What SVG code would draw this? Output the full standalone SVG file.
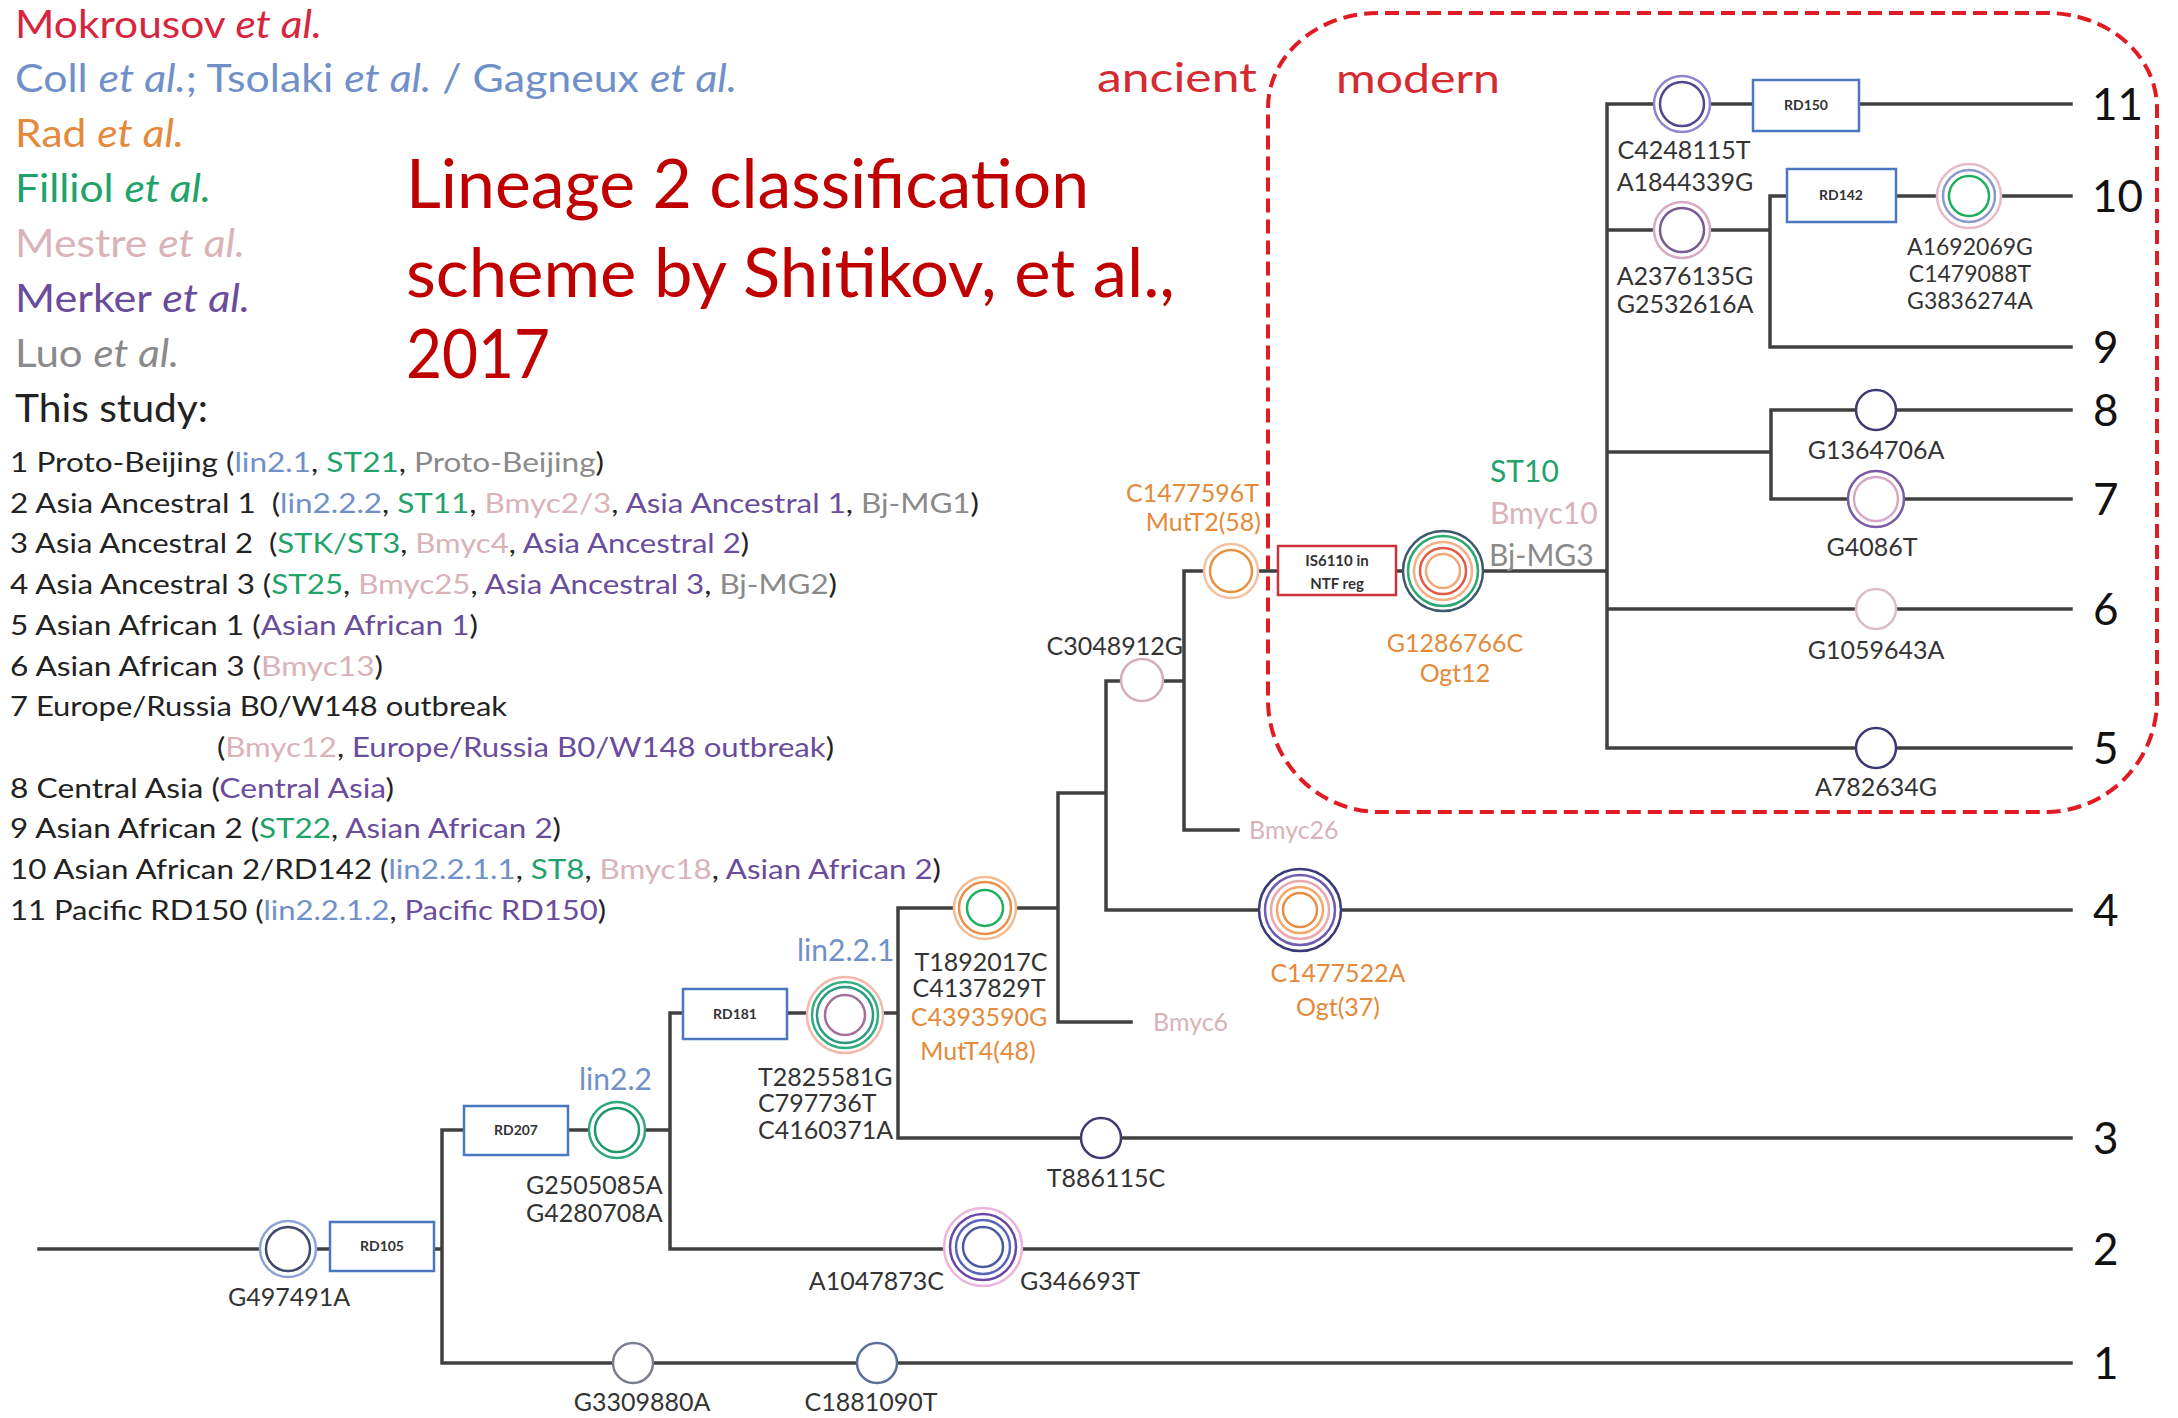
<svg xmlns="http://www.w3.org/2000/svg" width="2178" height="1418" viewBox="0 0 2178 1418">
  <style>
    text { font-family: Lato, "Open Sans", "Liberation Sans", sans-serif; }
    .ln { fill: none; stroke: #404040; stroke-width: 3.5; stroke-linecap: square; }
    .rd { fill: #fff; stroke: #4a78c0; stroke-width: 2.5; }
    .rdt { font-size: 14px; fill: #333; text-anchor: middle; font-weight: bold; }
    .snp { font-size: 25px; fill: #333; text-anchor: middle; }
    .sm { font-size: 23px; }
    .or { fill: #e48a3a; }
    .num { font-size: 44px; fill: #111; }
    .ring { fill: none; stroke-width: 2.5; }
    .bg { fill: #fff; stroke-width: 2.5; }
    .leg { font-size: 38px; }
    .row { font-size: 27px; fill: #222; }
    .cr { fill: #d6253c; }
    .cb { fill: #7090c8; }
    .co { fill: #e48a3a; }
    .cg { fill: #1fa36a; }
    .cp { fill: #d9b3b8; }
    .cm { fill: #6a4c9c; }
    .cy { fill: #8a8a8a; }
    .it { font-style: italic; }
    .title { font-size: 67px; fill: #c00000; }
    .era { font-size: 40px; fill: #d42a30; }
    .tag { font-size: 30px; }
    .tag2 { font-size: 25px; }
  </style>

  <rect width="2178" height="1418" fill="#fff"/>

  <!-- legend of sources -->
  <g id="legend">
    <text class="leg cr" x="15" y="38" textLength="307" lengthAdjust="spacingAndGlyphs">Mokrousov <tspan class="it">et al.</tspan></text>
    <text class="leg cb" x="15" y="92" textLength="722" lengthAdjust="spacingAndGlyphs">Coll <tspan class="it">et al.</tspan>; Tsolaki <tspan class="it">et al.</tspan> / Gagneux <tspan class="it">et al.</tspan></text>
    <text class="leg co" x="15" y="147" textLength="169" lengthAdjust="spacingAndGlyphs">Rad <tspan class="it">et al.</tspan></text>
    <text class="leg cg" x="15" y="202" textLength="196" lengthAdjust="spacingAndGlyphs">Filliol <tspan class="it">et al.</tspan></text>
    <text class="leg cp" x="15" y="257" textLength="230" lengthAdjust="spacingAndGlyphs">Mestre <tspan class="it">et al.</tspan></text>
    <text class="leg cm" x="15" y="312" textLength="235" lengthAdjust="spacingAndGlyphs">Merker <tspan class="it">et al.</tspan></text>
    <text class="leg cy" x="15" y="367" textLength="164" lengthAdjust="spacingAndGlyphs">Luo <tspan class="it">et al.</tspan></text>
    <text class="leg" x="15" y="422" fill="#222" textLength="193" lengthAdjust="spacingAndGlyphs">This study:</text>
  </g>

  <!-- numbered sublineage list -->
  <g id="sublineages">
    <text class="row" x="10" y="472" textLength="594" lengthAdjust="spacingAndGlyphs">1 Proto-Beijing (<tspan class="cb">lin2.1</tspan>, <tspan class="cg">ST21</tspan>, <tspan class="cy">Proto-Beijing</tspan>)</text>
    <text class="row" x="10" y="513" textLength="969" lengthAdjust="spacingAndGlyphs">2 Asia Ancestral 1 &#160;(<tspan class="cb">lin2.2.2</tspan>, <tspan class="cg">ST11</tspan>, <tspan class="cp">Bmyc2/3</tspan>, <tspan class="cm">Asia Ancestral 1</tspan>, <tspan class="cy">Bj-MG1</tspan>)</text>
    <text class="row" x="10" y="553" textLength="739" lengthAdjust="spacingAndGlyphs">3 Asia Ancestral 2 &#160;(<tspan class="cg">STK/ST3</tspan>, <tspan class="cp">Bmyc4</tspan>, <tspan class="cm">Asia Ancestral 2</tspan>)</text>
    <text class="row" x="10" y="594" textLength="827" lengthAdjust="spacingAndGlyphs">4 Asia Ancestral 3 (<tspan class="cg">ST25</tspan>, <tspan class="cp">Bmyc25</tspan>, <tspan class="cm">Asia Ancestral 3</tspan>, <tspan class="cy">Bj-MG2</tspan>)</text>
    <text class="row" x="10" y="635" textLength="468" lengthAdjust="spacingAndGlyphs">5 Asian African 1 (<tspan class="cm">Asian African 1</tspan>)</text>
    <text class="row" x="10" y="676" textLength="373" lengthAdjust="spacingAndGlyphs">6 Asian African 3 (<tspan class="cp">Bmyc13</tspan>)</text>
    <text class="row" x="10" y="716" textLength="497" lengthAdjust="spacingAndGlyphs">7 Europe/Russia B0/W148 outbreak</text>
    <text class="row" x="217" y="757" textLength="617" lengthAdjust="spacingAndGlyphs">(<tspan class="cp">Bmyc12</tspan>, <tspan class="cm">Europe/Russia B0/W148 outbreak</tspan>)</text>
    <text class="row" x="10" y="798" textLength="384" lengthAdjust="spacingAndGlyphs">8 Central Asia (<tspan class="cm">Central Asia</tspan>)</text>
    <text class="row" x="10" y="838" textLength="551" lengthAdjust="spacingAndGlyphs">9 Asian African 2 (<tspan class="cg">ST22</tspan>, <tspan class="cm">Asian African 2</tspan>)</text>
    <text class="row" x="10" y="879" textLength="931" lengthAdjust="spacingAndGlyphs">10 Asian African 2/RD142 (<tspan class="cb">lin2.2.1.1</tspan>, <tspan class="cg">ST8</tspan>, <tspan class="cp">Bmyc18</tspan>, <tspan class="cm">Asian African 2</tspan>)</text>
    <text class="row" x="10" y="920" textLength="596" lengthAdjust="spacingAndGlyphs">11 Pacific RD150 (<tspan class="cb">lin2.2.1.2</tspan>, <tspan class="cm">Pacific RD150</tspan>)</text>
  </g>

  <!-- title -->
  <g id="title">
    <text class="title" x="406" y="208" textLength="683" lengthAdjust="spacingAndGlyphs">Lineage 2 classification</text>
    <text class="title" x="406" y="297" textLength="769" lengthAdjust="spacingAndGlyphs">scheme by Shitikov, et al.,</text>
    <text class="title" x="406" y="378" textLength="144" lengthAdjust="spacingAndGlyphs">2017</text>
  </g>

  <!-- ancient / modern split -->
  <g id="modern-zone">
    <path d="M1268,108 A110,95 0 0 1 1378,13 L2047,13 A110,95 0 0 1 2157,108 L2157,700 A112,112 0 0 1 2045,812 L1380,812 A112,112 0 0 1 1268,700 Z" fill="none" stroke="#e01b24" stroke-width="4" stroke-dasharray="14 7"/>
    <text class="era" x="1097" y="92" textLength="160" lengthAdjust="spacingAndGlyphs">ancient</text>
    <text class="era" x="1336" y="93" textLength="164" lengthAdjust="spacingAndGlyphs">modern</text>
  </g>

  <!-- tree branches -->
  <g id="connectors">
    <path class="ln" d="M39,1249 H442 M442,1130 V1363 H2071 M442,1130 H670 M670,1013 V1249 H2071 M670,1013 H898 M898,908 V1138 H2071 M898,908 H1058 M1058,793 V1022 H1131 M1058,793 H1106 M1106,681 V910 H2071 M1106,681 H1184 M1184,571 V830 H1238 M1184,571 H1607 M1607,104 V748 M1607,104 H2071 M1607,230 H1770 M1770,196 V347 H2071 M1770,196 H2071 M1607,452 H1771 M1771,410 V499 H2071 M1771,410 H2071 M1607,609 H2071 M1607,748 H2071"/>
  </g>

  <!-- deletion boxes -->
  <g id="RD105"><rect class="rd" x="330" y="1222" width="104" height="49"/><text class="rdt" x="382" y="1251">RD105</text></g>
  <g id="RD207"><rect class="rd" x="464" y="1106" width="104" height="49"/><text class="rdt" x="516" y="1135">RD207</text></g>
  <g id="RD181"><rect class="rd" x="683" y="989" width="104" height="50"/><text class="rdt" x="735" y="1019">RD181</text></g>
  <g id="RD150"><rect class="rd" x="1753" y="80" width="106" height="51"/><text class="rdt" x="1806" y="110">RD150</text></g>
  <g id="RD142"><rect class="rd" x="1787" y="169" width="109" height="53"/><text class="rdt" x="1841" y="200">RD142</text></g>
  <g id="IS6110">
    <rect x="1278" y="546" width="118" height="49" fill="#fff" stroke="#d0303a" stroke-width="2.5"/>
    <text class="rdt" x="1337" y="566" style="font-size:15px">IS6110 in</text>
    <text class="rdt" x="1337" y="589" style="font-size:15px">NTF reg</text>
  </g>

  <!-- SNP nodes -->
  <g id="G497491A">
    <circle class="bg" cx="288" cy="1249" r="28" stroke="#8ca4d4"/>
    <circle class="ring" cx="288" cy="1249" r="22" stroke="#3f4a6a"/>
    <text class="snp" x="289" y="1306">G497491A</text>
  </g>
  <g id="G3309880A">
    <circle class="bg" cx="633" cy="1363" r="20" stroke="#7a7f90"/>
    <text class="snp" x="642" y="1411">G3309880A</text>
  </g>
  <g id="C1881090T">
    <circle class="bg" cx="877" cy="1363" r="20" stroke="#5a6e9a"/>
    <text class="snp" x="871" y="1411">C1881090T</text>
  </g>
  <g id="lin2.2">
    <circle class="bg" cx="617" cy="1130" r="28" stroke="#2fa878"/>
    <circle class="ring" cx="617" cy="1130" r="22" stroke="#1e9a68"/>
    <text class="tag cb" x="579" y="1090">lin2.2</text>
    <text class="snp" x="526" y="1194" style="text-anchor:start">G2505085A</text>
    <text class="snp" x="526" y="1222" style="text-anchor:start">G4280708A</text>
  </g>
  <g id="lin2.2.1">
    <circle class="bg" cx="845" cy="1015" r="38" stroke="#f2b8a8"/>
    <circle class="ring" cx="845" cy="1015" r="33" stroke="#2fae80"/>
    <circle class="ring" cx="845" cy="1015" r="28" stroke="#2a9a80"/>
    <circle class="ring" cx="845" cy="1015" r="20" stroke="#a0709a"/>
    <text class="tag cb" x="797" y="961">lin2.2.1</text>
    <text class="snp" x="758" y="1086" style="text-anchor:start">T2825581G</text>
    <text class="snp" x="758" y="1112" style="text-anchor:start">C797736T</text>
    <text class="snp" x="758" y="1139" style="text-anchor:start">C4160371A</text>
  </g>
  <g id="A1047873C">
    <circle class="bg" cx="983" cy="1247" r="39" stroke="#eeb4dc"/>
    <circle class="ring" cx="983" cy="1247" r="33" stroke="#6b48a8"/>
    <circle class="ring" cx="983" cy="1247" r="27" stroke="#5a66b8"/>
    <circle class="ring" cx="983" cy="1247" r="20" stroke="#4a5aa0"/>
    <text class="snp" x="944" y="1290" style="text-anchor:end">A1047873C</text>
    <text class="snp" x="1020" y="1290" style="text-anchor:start">G346693T</text>
  </g>
  <g id="T1892017C">
    <circle class="bg" cx="985" cy="908" r="31" stroke="#f3bc90"/>
    <circle class="ring" cx="985" cy="908" r="26" stroke="#e8904a"/>
    <circle class="ring" cx="985" cy="908" r="18" stroke="#1fb060"/>
    <text class="snp" x="981" y="971">T1892017C</text>
    <text class="snp" x="979" y="997">C4137829T</text>
    <text class="snp or" x="979" y="1026">C4393590G</text>
    <text class="snp or" x="978" y="1060">MutT4(48)</text>
  </g>
  <g id="T886115C">
    <circle class="bg" cx="1101" cy="1138" r="20" stroke="#3c3a6e"/>
    <text class="snp" x="1106" y="1187">T886115C</text>
  </g>
  <g id="Bmyc6"><text class="tag2 cp" x="1153" y="1031">Bmyc6</text></g>
  <g id="C1477522A">
    <circle class="bg" cx="1300" cy="910" r="41" stroke="#3a3a78"/>
    <circle class="ring" cx="1300" cy="910" r="35" stroke="#6e5cae"/>
    <circle class="ring" cx="1300" cy="910" r="29" stroke="#e8a8b0"/>
    <circle class="ring" cx="1300" cy="910" r="23" stroke="#f2a868"/>
    <circle class="ring" cx="1300" cy="910" r="17" stroke="#e88e44"/>
    <text class="snp or" x="1338" y="982">C1477522A</text>
    <text class="snp or" x="1338" y="1016">Ogt(37)</text>
  </g>
  <g id="C3048912G">
    <circle class="bg" cx="1142" cy="680" r="21" stroke="#d4aeb8"/>
    <text class="snp" x="1183" y="655" style="text-anchor:end">C3048912G</text>
  </g>
  <g id="Bmyc26"><text class="tag2 cp" x="1249" y="839">Bmyc26</text></g>
  <g id="C1477596T">
    <circle class="bg" cx="1231" cy="571" r="27" stroke="#f2c2a2"/>
    <circle class="ring" cx="1231" cy="571" r="21" stroke="#e8923e"/>
    <text class="snp or" x="1259" y="502" style="text-anchor:end">C1477596T</text>
    <text class="snp or" x="1261" y="531" style="text-anchor:end">MutT2(58)</text>
  </g>
  <g id="G1286766C">
    <circle class="bg" cx="1443" cy="571" r="40" stroke="#3e5a6a"/>
    <circle class="ring" cx="1443" cy="571" r="35" stroke="#2aa870"/>
    <circle class="ring" cx="1443" cy="571" r="29" stroke="#f0b088"/>
    <circle class="ring" cx="1443" cy="571" r="23" stroke="#e05a48"/>
    <circle class="ring" cx="1443" cy="571" r="17" stroke="#f0a878"/>
    <text class="snp or" x="1455" y="652">G1286766C</text>
    <text class="snp or" x="1455" y="682">Ogt12</text>
    <text class="tag cg" x="1490" y="482">ST10</text>
    <text class="tag cp" x="1490" y="524">Bmyc10</text>
    <text class="tag cy" x="1489" y="566">Bj-MG3</text>
  </g>
  <g id="C4248115T">
    <circle class="bg" cx="1682" cy="104" r="28" stroke="#8c86cc"/>
    <circle class="ring" cx="1682" cy="104" r="22" stroke="#4c4a8c"/>
    <text class="snp" x="1684" y="159">C4248115T</text>
    <text class="snp" x="1685" y="191">A1844339G</text>
  </g>
  <g id="A2376135G">
    <circle class="bg" cx="1682" cy="230" r="28" stroke="#d6aac4"/>
    <circle class="ring" cx="1682" cy="230" r="22" stroke="#7a5a92"/>
    <text class="snp" x="1685" y="285">A2376135G</text>
    <text class="snp" x="1685" y="313">G2532616A</text>
  </g>
  <g id="A1692069G">
    <circle class="bg" cx="1969" cy="196" r="32" stroke="#e4bcc8"/>
    <circle class="ring" cx="1969" cy="196" r="26" stroke="#8c98c8"/>
    <circle class="ring" cx="1969" cy="196" r="20" stroke="#1fae5e"/>
    <text class="snp sm" x="1970" y="255">A1692069G</text>
    <text class="snp sm" x="1970" y="282">C1479088T</text>
    <text class="snp sm" x="1970" y="309">G3836274A</text>
  </g>
  <g id="G1364706A">
    <circle class="bg" cx="1876" cy="410" r="20" stroke="#3c3a72"/>
    <text class="snp" x="1876" y="459">G1364706A</text>
  </g>
  <g id="G4086T">
    <circle class="bg" cx="1876" cy="499" r="28" stroke="#7a5aa8"/>
    <circle class="ring" cx="1876" cy="499" r="22" stroke="#d6a8c8"/>
    <text class="snp" x="1872" y="556">G4086T</text>
  </g>
  <g id="G1059643A">
    <circle class="bg" cx="1876" cy="609" r="20" stroke="#dcbcc4"/>
    <text class="snp" x="1876" y="659">G1059643A</text>
  </g>
  <g id="A782634G">
    <circle class="bg" cx="1876" cy="748" r="20" stroke="#3c3a72"/>
    <text class="snp" x="1876" y="796">A782634G</text>
  </g>

  <!-- sublineage numbers -->
  <g id="tips">
    <text class="num" x="2092" y="120">11</text>
    <text class="num" x="2092" y="212">10</text>
    <text class="num" x="2093" y="363">9</text>
    <text class="num" x="2093" y="426">8</text>
    <text class="num" x="2093" y="515">7</text>
    <text class="num" x="2093" y="625">6</text>
    <text class="num" x="2093" y="764">5</text>
    <text class="num" x="2093" y="926">4</text>
    <text class="num" x="2093" y="1154">3</text>
    <text class="num" x="2093" y="1265">2</text>
    <text class="num" x="2093" y="1379">1</text>
  </g>
</svg>
